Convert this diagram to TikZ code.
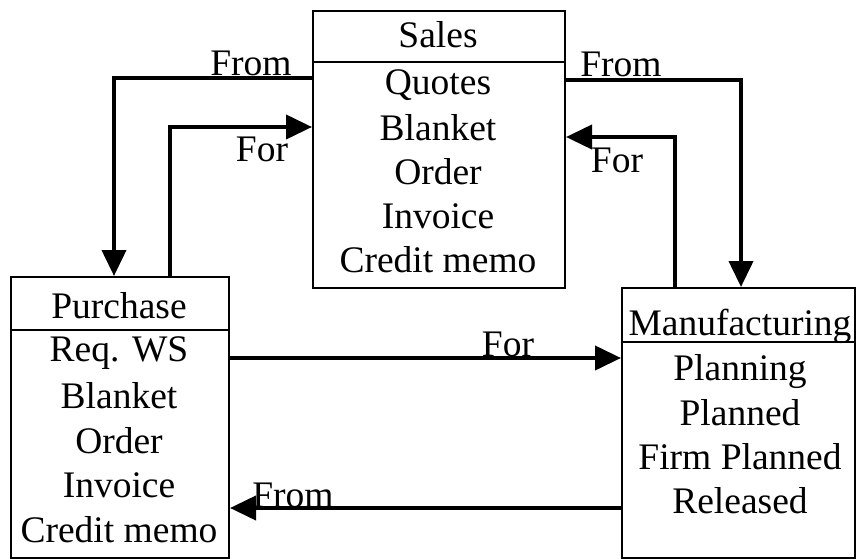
\documentclass[tikz,border=0pt]{standalone}
\usepackage{fontspec}
\setmainfont{Liberation Serif}
\usetikzlibrary{arrows.meta,calc}
\begin{document}
\begin{tikzpicture}[x=1pt,y=-1pt,
 box/.style={draw,line width=2pt,anchor=north west,inner sep=0pt},
 txt/.style={anchor=base,inner sep=0pt,font=\fontsize{37.5}{44}\selectfont},
 conn/.style={line width=4pt,-{Triangle[length=26pt,width=24pt]}}]
\useasboundingbox[fill=white] (0,0) rectangle (856,559);
% boxes
\node[box,minimum width=252pt,minimum height=277pt] (sales) at (312,10) {};
\node[box,minimum width=218pt,minimum height=281pt] (purch) at (10,276) {};
\node[box,minimum width=233pt,minimum height=270pt] (manu) at (621,287) {};
% header lines
\draw[line width=2pt] ($(sales.north west)+(0,52)$) -- ($(sales.north east)+(0,52)$);
\draw[line width=2pt] ($(purch.north west)+(0,54)$) -- ($(purch.north east)+(0,54)$);
\draw[line width=2pt] ($(manu.north west)+(0,55)$) -- ($(manu.north east)+(0,55)$);
% sales text
\node[txt] (s0) at (438,48) {Sales};
\node[txt] (s1) at (438,95) {Quotes};
\node[txt] (s2) at (438,140) {Blanket};
\node[txt] (s3) at (438,184) {Order};
\node[txt] (s4) at (438,228) {Invoice};
\node[txt] (s5) at (438,272) {Credit memo};
% purchase text
\node[txt] (p0) at (119,318) {Purchase};
\node[txt] (p1) at (119,361) {Req. WS};
\node[txt] (p2) at (119,408) {Blanket};
\node[txt] (p3) at (119,453) {Order};
\node[txt] (p4) at (119,497) {Invoice};
\node[txt] (p5) at (119,542) {Credit memo};
% manufacturing text
\node[txt] (m0) at (740,335) {Manufacturing};
\node[txt] (m1) at (740,380) {Planning};
\node[txt] (m2) at (740,425) {Planned};
\node[txt] (m3) at (740,469) {Firm Planned};
\node[txt] (m4) at (740,513) {Released};
% connectors
\draw[conn] ($(sales.north west)+(0,68)$) -| ($(purch.north west)+(104,0)$);
\draw[conn] ($(purch.north west)+(160,0)$) |- ($(sales.north west)+(0,117)$);
\draw[conn] ($(sales.north east)+(0,70)$) -| ($(manu.north west)+(120,0)$);
\draw[conn] ($(manu.north west)+(54,0)$) |- ($(sales.north east)+(0,127)$);
\draw[conn] ($(purch.north east)+(0,82)$) -- ($(manu.north west)+(0,71)$);
\draw[conn] ($(manu.north west)+(0,221)$) -- ($(purch.north east)+(0,232)$);
% labels
\node[txt] (l1) at (251,76) {From};
\node[txt] (l2) at (262,161) {For};
\node[txt] (l3) at (621,77) {From};
\node[txt] (l4) at (617,172) {For};
\node[txt] (l5) at (508,356) {For};
\node[txt] (l6) at (293,507) {From};
\end{tikzpicture}
\end{document}
